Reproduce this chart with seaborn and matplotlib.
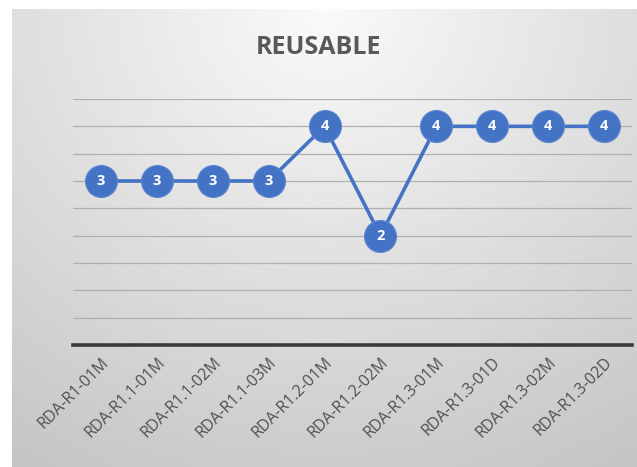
import numpy as np
import seaborn as sns
import matplotlib.pyplot as plt

# dados do gráfico
codigos = ["RDA-R1-01M", "RDA-R1.1-01M", "RDA-R1.1-02M", "RDA-R1.1-03M", "RDA-R1.2-01M",
           "RDA-R1.2-02M", "RDA-R1.3-01M", "RDA-R1.3-01D", "RDA-R1.3-02M", "RDA-R1.3-02D"]
notas = [3, 3, 3, 3, 4, 2, 4, 4, 4, 4]
titulo = "REUSABLE"

sns.set_theme(style="white")
plt.rcParams["font.family"] = ["Open Sans", "DejaVu Sans"]

fig = plt.figure(figsize=(6.37, 4.67), dpi=100)
fig.patch.set_facecolor("white")

# Fundo em degradê (radial, mais claro no topo)
bg = fig.add_axes([12 / 637, 0, 1 - 12 / 637, 1 - 9 / 467])
yy, xx = np.mgrid[0:1:200j, -1:1:300j]
grad = 0.98 - np.sqrt((xx * 0.11) ** 2 + (yy * 0.18) ** 2)
bg.imshow(grad, cmap="gray", vmin=0, vmax=1, aspect="auto", origin="upper",
          extent=[0, 1, 0, 1], interpolation="bicubic")
bg.set_axis_off()

ax = fig.add_axes([73 / 637, 1 - 345 / 467, (632 - 73) / 637, (345 - 99) / 467])
ax.patch.set_alpha(0)
x = np.arange(len(codigos))
sns.lineplot(x=x, y=notas, ax=ax, color="#4472c4", linewidth=2.6, marker="o",
             markersize=23, markeredgecolor="#5b86d0", markeredgewidth=0.8, zorder=3)
for xi, v in zip(x, notas):
    ax.text(xi, v, str(v), ha="center", va="center", color="white",
            fontsize=10.5, fontweight="bold", zorder=4)

ax.set_xlim(-0.5, len(codigos) - 0.5)
ax.set_ylim(0, 4.5)
ax.set_yticks(np.arange(0.5, 4.51, 0.5))
ax.yaxis.grid(True, color="#b0b0b0", linewidth=0.9)
ax.tick_params(axis="y", left=False, labelleft=False)
ax.set_xticks(x)
ax.set_xticklabels(codigos, rotation=45, ha="right", rotation_mode="anchor",
                   fontsize=11.5, color="#505050")
ax.tick_params(axis="x", length=0, pad=7)
for s in ["top", "right", "left"]:
    ax.spines[s].set_visible(False)
ax.spines["bottom"].set_color("#3a3a3a")
ax.spines["bottom"].set_linewidth(2.6)

fig.text(0.5, 1 - 48 / 467, titulo, ha="center", va="center", fontsize=18,
         fontweight="bold", color="#595959")

fig.savefig("out.png", dpi=100)
